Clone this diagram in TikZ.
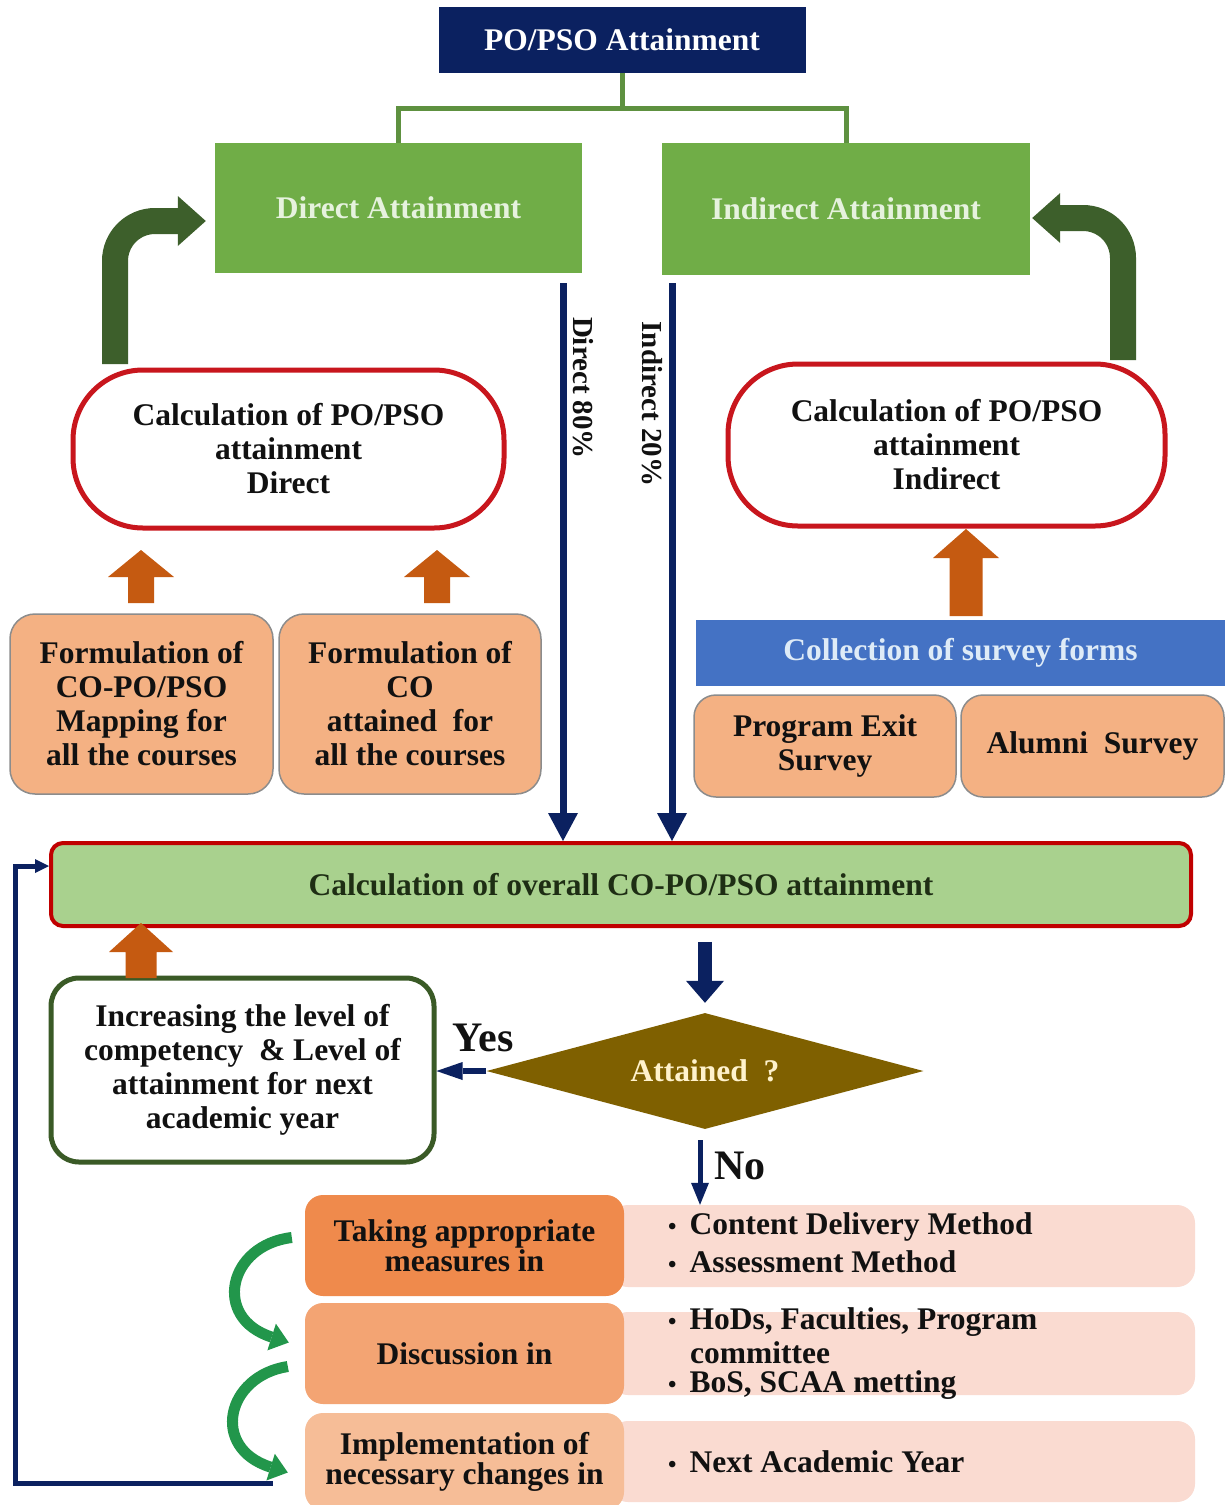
\documentclass[tikz,border=0pt]{standalone}
\usepackage{fontspec}
\setmainfont{Liberation Serif}
\usetikzlibrary{arrows.meta,calc,shapes.geometric}
\definecolor{navy}{HTML}{0B2160}
\definecolor{greenbox}{HTML}{70AD47}
\definecolor{greentext}{HTML}{E6F2DE}
\definecolor{conngreen}{HTML}{5E9140}
\definecolor{darkgreen}{HTML}{3D5F2B}
\definecolor{calcred}{HTML}{C8161D}
\definecolor{peach}{HTML}{F4B183}
\definecolor{peachborder}{HTML}{8C8C8C}
\definecolor{blockorange}{HTML}{C55A11}
\definecolor{surveyblue}{HTML}{4472C4}
\definecolor{surveytext}{HTML}{DEEBF7}
\definecolor{overallfill}{HTML}{A9D18E}
\definecolor{overallborder}{HTML}{C00000}
\definecolor{olive}{HTML}{7F6000}
\definecolor{yellowtext}{HTML}{FFF2CC}
\definecolor{incrborder}{HTML}{3A5A26}
\definecolor{rowone}{HTML}{EF8A4C}
\definecolor{rowtwo}{HTML}{F3A473}
\definecolor{rowthree}{HTML}{F6BD97}
\definecolor{pinkrow}{HTML}{FADBD1}
\definecolor{curvegreen}{HTML}{22964B}
\definecolor{inkblack}{HTML}{111111}
\definecolor{overalltext}{HTML}{1E2E14}
\newcommand\bfsz{\fontsize{31.5}{34}\selectfont\bfseries}
\newcommand\mybul{{\fontsize{24}{24}\selectfont\textbullet}\hspace{13pt}}
\newcommand\blockup[6]{\fill[#6] ($(#1)+(-#3,0)$) -- ($(#2)+(-#3,#5)$) -- ($(#2)+(-#4,#5)$) -- (#2) -- ($(#2)+(#4,#5)$) -- ($(#2)+(#3,#5)$) -- ($(#1)+(#3,0)$) -- cycle;}
\begin{document}
\begin{tikzpicture}[x=1pt,y=-1pt,
  box/.style={rectangle, inner sep=0pt, align=center, font=\bfsz, text=inkblack},
  conn/.style={draw=conngreen, line width=5pt},
  bent/.style={draw=darkgreen, line width=26pt, rounded corners=40pt, -{Triangle[length=28pt,width=50pt,line width=0pt]}},
  navyarr/.style={draw=navy, line width=7pt, -{Triangle[length=28pt,width=30pt,line width=0pt]}},
  lbl/.style={font=\fontsize{29}{29}\selectfont\bfseries, text=inkblack, inner sep=0pt},
  stadium/.style={box, draw=calcred, line width=5pt, fill=white, rounded corners=70pt},
  peachbox/.style={box, fill=peach, draw=peachborder, line width=1.5pt, rounded corners=25pt},
  rowbox/.style={box, rounded corners=18pt, font=\fontsize{31.5}{30}\selectfont\bfseries},
  item/.style={anchor=west, inner sep=0pt, font=\bfsz, text=inkblack},
  curv/.style={draw=curvegreen, line width=11pt, -{Triangle[length=18pt,width=28pt,line width=0pt]}}
]
\useasboundingbox (0,0) rectangle (1225,1505);
\fill[white] (0,0) rectangle (1225,1505);

% top
\node[box, fill=navy, text=white, minimum width=367pt, minimum height=66pt] (po) at (622,40) {PO/PSO Attainment};
\node[box, fill=greenbox, text=greentext, minimum width=367pt, minimum height=130pt] (direct) at (398.5,208) {Direct Attainment};
\node[box, fill=greenbox, text=greentext, minimum width=368pt, minimum height=132pt] (indirect) at (846,209) {Indirect Attainment};
\draw[conn] (po.south) -- ++(0,35) coordinate (cj) -| (direct.north);
\draw[conn] (cj) -| (indirect.north);

% bent arrows
\coordinate (bl0) at (115,364);
\coordinate (bl1) at (115,221);
\draw[bent] (bl0) -- (bl1) -- ($(bl1 -| direct.west)+(-9,0)$);
\coordinate (br0) at (1123,360);
\coordinate (br1) at (1123,218);
\draw[bent] (br0) -- (br1) -- ($(br1 -| indirect.east)+(2,0)$);

% stadiums
\node[stadium, minimum width=431pt, minimum height=158pt] (calcL) at (288.5,449) {Calculation of PO/PSO\\attainment\\Direct};
\node[stadium, minimum width=437pt, minimum height=162pt] (calcR) at (946.5,445) {Calculation of PO/PSO\\attainment\\Indirect};

% formulation boxes
\node[peachbox, minimum width=263pt, minimum height=180pt] (f1) at (141.5,704) {Formulation of\\CO-PO/PSO\\Mapping for\\all the courses};
\node[peachbox, minimum width=262pt, minimum height=180pt] (f2) at (410,704) {Formulation of\\CO\\attained\ \ for\\all the courses};

% survey
\node[box, fill=surveyblue, text=surveytext, minimum width=529pt, minimum height=66pt] (survey) at (960.5,653) {Collection of survey forms};
\node[peachbox, rounded corners=22pt, minimum width=262pt, minimum height=102pt] (pes) at (825,746) {Program Exit\\Survey};
\node[peachbox, rounded corners=22pt, minimum width=263pt, minimum height=102pt] (alum) at (1092.5,746) {Alumni\ \ Survey};

% orange block arrows
\coordinate (a1b) at (141,603); \coordinate (a1t) at (141,550);
\blockup{a1b}{a1t}{13}{33}{27}{blockorange}
\coordinate (a2b) at (437,603); \coordinate (a2t) at (437,550);
\blockup{a2b}{a2t}{13}{33}{27}{blockorange}
\coordinate (a3b) at (966,616); \coordinate (a3t) at (966,529);
\blockup{a3b}{a3t}{16.5}{33}{29}{blockorange}

% overall
\node[box, fill=overallfill, draw=overallborder, line width=4pt, rounded corners=12pt, text=overalltext, minimum width=1140pt, minimum height=83pt] (overall) at (621,884.5) {Calculation of overall CO-PO/PSO attainment};

% navy direct / indirect
\coordinate (d80) at (563,283);
\draw[navyarr] (d80) -- (d80 |- overall.north);
\node[lbl, rotate=-90] (l80) at (583,388) {Direct 80\%};
\coordinate (i20) at (672,283);
\draw[navyarr] (i20) -- (i20 |- overall.north);
\node[lbl, rotate=-90] (l20) at (652,404) {Indirect 20\%};

% diamond
\node[diamond, fill=olive, text=yellowtext, minimum width=437pt, minimum height=116pt, inner sep=0pt, aspect=3.77, font=\bfsz] (diam) at (705,1071) {Attained\ \ ?};
\draw[draw=navy, line width=14pt, -{Triangle[length=22pt,width=38pt,line width=0pt]}] ($(diam.north)+(0,-71)$) -- ($(diam.north)+(0,-10)$);

% increasing box
\node[box, draw=incrborder, line width=5pt, fill=white, rounded corners=28pt, minimum width=383pt, minimum height=184pt] (incr) at (242.5,1070) {Increasing the level of\\competency\ \ \& Level of\\attainment for next\\academic year};
\draw[draw=navy, line width=6pt, -{Triangle[length=26pt,width=18pt,line width=0pt]}] (diam.west) -- (diam.west -| incr.east);
\node[font=\fontsize{42}{42}\selectfont\bfseries, text=inkblack, inner sep=0pt] (yes) at (483,1038) {Yes};
\coordinate (a4b) at (141,978); \coordinate (a4t) at (141,923);
\blockup{a4b}{a4t}{15.5}{32}{29}{blockorange}

% bottom rows
\node[rowbox, fill=pinkrow, minimum width=585pt, minimum height=82pt] (r1R) at (902.5,1246) {};
\node[rowbox, fill=pinkrow, minimum width=585pt, minimum height=83pt] (r2R) at (902.5,1353.5) {};
\node[rowbox, fill=pinkrow, minimum width=585pt, minimum height=81pt] (r3R) at (902.5,1461.5) {};
\node[rowbox, fill=rowone, minimum width=319pt, minimum height=101pt] (r1L) at (464.5,1245.5) {Taking appropriate\\measures in};
\node[rowbox, fill=rowtwo, minimum width=319pt, minimum height=101pt] (r2L) at (464.5,1353.5) {Discussion in};
\node[rowbox, fill=rowthree, minimum width=319pt, minimum height=97pt] (r3L) at (464.5,1461.5) {Implementation of\\necessary changes in};

% no arrow
\coordinate (noA) at ($(diam.south)+(-5,11)$);
\draw[draw=navy, line width=5pt, -{Triangle[length=22pt,width=18pt,line width=0pt]}] (noA) -- (noA |- r1R.north);
\node[font=\fontsize{42}{42}\selectfont\bfseries, text=inkblack, inner sep=0pt] (no) at (740,1166) {No};

% items
\node[item] (i1) at (668,1227) {\mybul Content Delivery Method};
\node[item] (i2) at (668,1262) {\mybul Assessment Method};
\node[item] (i3) at (668,1322) {\mybul HoDs, Faculties, Program};
\node[item] (i3b) at (690,1353) {committee};
\node[item] (i4) at (668,1385) {\mybul BoS, SCAA metting};
\node[item] (i5) at (668,1462) {\mybul Next Academic Year};

% green curved arrows
\draw[curv] ($(r1L.west)+(-13,-8)$) .. controls (228,1245) and (212,1318) .. ($(r2L.west)+(-16,-11)$);
\draw[curv] ($(r2L.west)+(-17,13)$) .. controls (226,1376) and (210,1448) .. ($(r3L.west)+(-17,11)$);

% feedback
\coordinate (fbA) at (15,866);
\coordinate (fbB) at (15,1483);
\draw[draw=navy, line width=5pt, -{Triangle[length=14pt,width=14pt,line width=0pt]}] ($(r3L.west)+(-32,21.5)$) -- (fbB) -- (fbA) -- (fbA -| overall.west);
\end{tikzpicture}
\end{document}
